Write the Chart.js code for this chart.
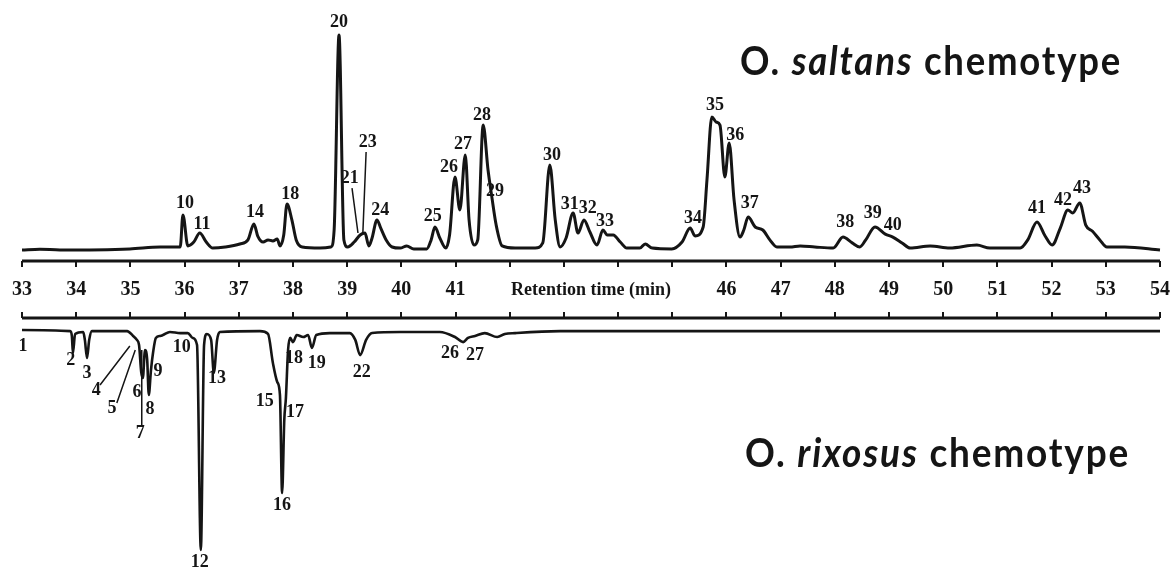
<!DOCTYPE html>
<html>
<head>
<meta charset="utf-8">
<script src="https://cdn.jsdelivr.net/npm/chart.js@4.4.1/dist/chart.umd.min.js"></script>
<style>
  html, body { margin: 0; padding: 0; background: #fff; }
  #wrap { width: 1170px; height: 573px; }
</style>
</head>
<body>
<div id="wrap"><canvas id="chromChart" width="1170" height="573"></canvas></div>
<script>
// O. saltans trace: retention time (min) and signal (peak 20 = 100)
const saltansTime = [
    33.00, 33.33, 33.70, 34.99, 35.55, 35.92, 35.97, 36.06, 36.17, 36.28,
    36.40, 36.52, 36.75, 37.02, 37.17, 37.28, 37.35, 37.45, 37.54, 37.63,
    37.71, 37.76, 37.83, 37.89, 37.98, 38.06, 38.17, 38.50, 38.70, 38.76,
    38.85, 38.94, 39.01, 39.13, 39.24, 39.33, 39.40, 39.46, 39.55, 39.62,
    39.72, 39.83, 39.98, 40.10, 40.23, 40.47, 40.55, 40.62, 40.71, 40.82,
    40.89, 40.99, 41.08, 41.18, 41.25, 41.34, 41.41, 41.51, 41.60, 41.67,
    41.75, 41.86, 42.10, 42.47, 42.61, 42.74, 42.84, 42.93, 43.04, 43.17,
    43.26, 43.37, 43.48, 43.61, 43.72, 43.80, 43.91, 44.04, 44.16, 44.40,
    44.50, 44.63, 44.99, 45.18, 45.33, 45.42, 45.57, 45.64, 45.73, 45.81,
    45.88, 45.97, 46.05, 46.14, 46.25, 46.32, 46.40, 46.53, 46.67, 46.80,
    46.93, 47.17, 47.36, 47.63, 47.97, 48.15, 48.32, 48.46, 48.57, 48.74,
    48.93, 49.07, 49.24, 49.39, 49.76, 50.12, 50.62, 50.86, 51.42, 51.56,
    51.73, 51.88, 52.01, 52.16, 52.30, 52.39, 52.52, 52.63, 52.75, 52.89,
    53.02, 53.35, 54.00
];
const saltansSignal = [
    0, 0.4, 0, 0.5, 1.4, 1.4, 16.3, 1.9, 3.7, 7.9,
    3.7, 0.9, 1.4, 2.8, 4.7, 12.1, 6.5, 3.7, 4.7, 4.2,
    5.1, 1.9, 7.0, 21.4, 14.0, 4.7, 1.4, 0.9, 1.4, 9.3,
    100, 4.7, 1.4, 3.7, 7.0, 7.9, 1.9, 5.6, 14.0, 10.2,
    4.7, 1.4, 0.9, 1.9, 0.5, 0.5, 4.7, 10.7, 5.6, 0.9,
    7.0, 34.0, 18.6, 44.2, 14.0, 2.3, 4.7, 58.1, 37.2, 24.7,
    11.6, 1.9, 0.9, 0.9, 3.3, 39.5, 14.0, 1.4, 5.6, 17.2,
    7.9, 14.0, 8.4, 2.3, 9.3, 7.0, 7.0, 3.7, 0.9, 0.9,
    2.8, 0.9, 0.5, 3.7, 10.2, 6.5, 10.7, 32.6, 61.9, 59.5,
    58.1, 34.0, 49.8, 23.3, 6.0, 9.3, 15.3, 10.7, 9.3, 4.7,
    1.4, 1.4, 1.9, 1.4, 0.9, 6.0, 3.3, 1.4, 4.7, 10.7,
    7.4, 6.0, 3.3, 0.9, 1.9, 0.9, 2.3, 0.9, 0.9, 4.7,
    13.0, 6.5, 2.3, 10.2, 18.6, 17.2, 21.9, 11.6, 8.8, 4.7,
    1.4, 1.4, 0
];

// O. rixosus trace, plotted downwards (peak 12 = -100)
const rixosusTime = [
    33.00, 33.89, 33.92, 33.94, 33.98, 34.13, 34.16, 34.20, 34.24, 34.29,
    34.94, 35.05, 35.12, 35.16, 35.20, 35.23, 35.27, 35.31, 35.34, 35.38,
    35.42, 35.47, 35.55, 35.60, 35.73, 35.92, 36.06, 36.15, 36.23, 36.30,
    36.36, 36.41, 36.49, 36.54, 36.60, 36.65, 37.39, 37.54, 37.63, 37.71,
    37.76, 37.80, 37.84, 37.87, 37.91, 37.95, 38.00, 38.07, 38.19, 38.28,
    38.35, 38.43, 38.68, 39.05, 39.15, 39.24, 39.35, 39.46, 39.98, 40.71,
    40.99, 41.14, 41.23, 41.36, 41.54, 41.77, 41.91, 42.10, 42.93, 54.00
];
const rixosusSignal = [
    0, -0.5, -2.7, -10.5, -1.8, -0.9, -4.5, -12.7, -4.5, -0.5,
    -0.5, -2.7, -4.5, -6.8, -19.1, -21.8, -9.1, -13.6, -29.5, -18.2,
    -10.0, -3.6, -2.7, -2.3, -0.9, -1.4, -1.4, -3.6, -6.8, -100,
    -6.8, -1.8, -4.5, -19.5, -4.5, -0.9, -0.5, -1.8, -15.0, -23.6,
    -29.5, -74.1, -40.9, -30.9, -9.1, -3.6, -5.5, -2.3, -3.2, -2.3,
    -8.2, -2.3, -1.4, -1.4, -4.5, -11.4, -4.5, -1.4, -0.9, -0.9,
    -3.2, -5.5, -3.6, -2.7, -1.4, -3.2, -1.8, -1.4, -0.5, -0.5
];

// peak numbers and where each label sits (time, signal)
const saltansPeaks = ['10', '11', '14', '18', '20', '21', '23', '24', '25', '26', '27', '28', '29', '30',
    '31', '32', '33', '34', '35', '36', '37', '38', '39', '40', '41', '42', '43'];
const saltansLabelTime = [36.01, 36.32, 37.30, 37.95, 38.85, 39.05, 39.38, 39.61, 40.58, 40.88, 41.14, 41.49, 41.73, 42.78,
    43.11, 43.44, 43.76, 45.38, 45.79, 46.16, 46.43, 48.19, 48.70, 49.07, 51.73, 52.21, 52.56];
const saltansLabelSignal = [21.9, 12.1, 17.7, 26.0, 106.0, 33.5, 50.2, 18.6, 15.8, 38.6, 49.3, 62.8, 27.4, 44.2,
    21.4, 19.5, 13.5, 14.9, 67.4, 53.5, 21.9, 13.0, 17.2, 11.6, 19.5, 23.3, 28.8];
// leader lines: [time1, signal1, time2, signal2]
const saltansLeaders = [[39.09, 28.8, 39.20, 7.9], [39.35, 45.6, 39.29, 7.9]];

const rixosusPeaks = ['1', '2', '3', '4', '5', '6', '7', '8', '9', '10', '12', '13', '15', '16', '17', '18', '19', '22', '26', '27'];
const rixosusLabelTime = [33.02, 33.90, 34.20, 34.37, 34.66, 35.12, 35.18, 35.36, 35.51, 35.95, 36.28, 36.60, 37.48, 37.80,
    38.04, 38.02, 38.44, 39.27, 40.90, 41.36];
const rixosusLabelSignal = [-7.3, -13.6, -19.5, -27.3, -35.5, -28.2, -46.8, -35.9, -18.6, -7.7, -105.5, -21.8, -32.3, -79.5,
    -37.3, -12.7, -15.0, -19.1, -10.5, -11.4];
const rixosusLeaders = [[34.44, -25.0, 34.99, -7.3], [34.75, -33.2, 35.09, -9.1], [35.21, -44.1, 35.21, -9.1]];

// time axis
const timeTicks = [33, 34, 35, 36, 37, 38, 39, 40, 41, 42, 43, 44, 45, 46, 47, 48, 49, 50, 51, 52, 53, 54];
const tickLabels = ['33', '34', '35', '36', '37', '38', '39', '40', '41', '', '', '', '', '46', '47', '48', '49', '50', '51', '52', '53', '54'];
const axisTitle = 'Retention time (min)';
const axisTitleAt = 43.5;

// ---- layout ----
const H = 573;
const SAL_BASE = 250, SAL_PX = 2.15;   // baseline pixel, pixels per signal unit
const RIX_BASE = 330, RIX_PX = 2.2;
const AXIS_TOP_Y = 261, AXIS_BOTTOM_Y = 318, TICK_LEN = 6, TICK_TEXT_Y = 290;
const ink = '#151515';
const numFont = 'bold 18px "Liberation Serif"';

const frame = {
    id: 'frame',
    afterDatasetsDraw(chart) {
        const { ctx, scales: { x } } = chart;
        const left = x.getPixelForValue(timeTicks[0]);
        const right = x.getPixelForValue(timeTicks[timeTicks.length - 1]);
        ctx.save();
        ctx.strokeStyle = ink;
        ctx.lineWidth = 3;
        ctx.beginPath();
        ctx.moveTo(left, AXIS_TOP_Y);
        ctx.lineTo(right, AXIS_TOP_Y);
        ctx.moveTo(left, AXIS_BOTTOM_Y);
        ctx.lineTo(right, AXIS_BOTTOM_Y);
        ctx.stroke();

        ctx.lineWidth = 2;
        ctx.beginPath();
        timeTicks.forEach(t => {
            const px = Math.round(x.getPixelForValue(t));
            ctx.moveTo(px, AXIS_TOP_Y);
            ctx.lineTo(px, AXIS_TOP_Y + TICK_LEN);
            ctx.moveTo(px, AXIS_BOTTOM_Y);
            ctx.lineTo(px, AXIS_BOTTOM_Y - TICK_LEN);
        });
        ctx.stroke();

        ctx.fillStyle = ink;
        ctx.textAlign = 'center';
        ctx.textBaseline = 'middle';
        ctx.font = 'bold 20px "Liberation Serif"';
        timeTicks.forEach((t, i) => {
            if (tickLabels[i]) ctx.fillText(tickLabels[i], x.getPixelForValue(t), TICK_TEXT_Y);
        });
        ctx.font = 'bold 18px "Liberation Serif"';
        ctx.fillText(axisTitle, x.getPixelForValue(axisTitleAt), TICK_TEXT_Y);
        ctx.restore();
    }
};

function drawPeakLabels(ctx, x, y, names, times, signals, leaders) {
    ctx.font = numFont;
    names.forEach((n, i) => ctx.fillText(n, x.getPixelForValue(times[i]), y.getPixelForValue(signals[i])));
    ctx.lineWidth = 1.5;
    ctx.beginPath();
    leaders.forEach(l => {
        ctx.moveTo(x.getPixelForValue(l[0]), y.getPixelForValue(l[1]));
        ctx.lineTo(x.getPixelForValue(l[2]), y.getPixelForValue(l[3]));
    });
    ctx.stroke();
}

const peakLabels = {
    id: 'peakLabels',
    afterDatasetsDraw(chart) {
        const { ctx, scales } = chart;
        ctx.save();
        ctx.fillStyle = ink;
        ctx.strokeStyle = ink;
        ctx.textAlign = 'center';
        ctx.textBaseline = 'middle';
        drawPeakLabels(ctx, scales.x, scales.ySal, saltansPeaks, saltansLabelTime, saltansLabelSignal, saltansLeaders);
        drawPeakLabels(ctx, scales.x, scales.yRix, rixosusPeaks, rixosusLabelTime, rixosusLabelSignal, rixosusLeaders);
        ctx.restore();
    }
};

// mixed upright / italic title fitted into a given span
function drawTitle(ctx, parts, left, right, baseline) {
    ctx.save();
    ctx.letterSpacing = '2px';
    let total = 0;
    parts.forEach(p => {
        ctx.font = p.font;
        p.w = ctx.measureText(p.text).width;
        total += p.w;
    });
    ctx.translate(left, baseline);
    ctx.scale((right - left) / total, 1);
    ctx.fillStyle = ink;
    ctx.textAlign = 'left';
    ctx.textBaseline = 'alphabetic';
    let cx = 0;
    parts.forEach(p => {
        ctx.font = p.font;
        ctx.fillText(p.text, cx, 0);
        cx += p.w;
    });
    ctx.restore();
}

const upright = 'bold 41px Lato';
const slanted = 'italic bold 41px Lato';

const titles = {
    id: 'titles',
    afterDraw(chart) {
        const ctx = chart.ctx;
        drawTitle(ctx, [
            { text: 'O. ', font: upright },
            { text: 'saltans', font: slanted },
            { text: ' chemotype', font: upright }
        ], 740, 1122, 75);
        drawTitle(ctx, [
            { text: 'O. ', font: upright },
            { text: 'rixosus', font: slanted },
            { text: ' chemotype', font: upright }
        ], 745, 1130, 467);
    }
};

const ctx = document.getElementById('chromChart');

new Chart(ctx, {
    type: 'line',
    data: {
        datasets: [{
            label: 'O. saltans',
            data: saltansTime.map((t, i) => ({ x: t, y: saltansSignal[i] })),
            yAxisID: 'ySal',
            borderColor: ink,
            borderWidth: 3,
            pointRadius: 0,
            fill: false,
            cubicInterpolationMode: 'monotone',
            clip: 6
        }, {
            label: 'O. rixosus',
            data: rixosusTime.map((t, i) => ({ x: t, y: rixosusSignal[i] })),
            yAxisID: 'yRix',
            borderColor: ink,
            borderWidth: 2.6,
            pointRadius: 0,
            fill: false,
            cubicInterpolationMode: 'monotone',
            clip: 6
        }]
    },
    options: {
        responsive: false,
        animation: false,
        layout: { padding: { left: 22, right: 10, top: 0, bottom: 0 } },
        plugins: {
            legend: { display: false },
            tooltip: { enabled: false }
        },
        scales: {
            x: { type: 'linear', min: 33, max: 54, display: false },
            ySal: { type: 'linear', display: false, min: -(H - SAL_BASE) / SAL_PX, max: SAL_BASE / SAL_PX },
            yRix: { type: 'linear', display: false, min: -(H - RIX_BASE) / RIX_PX, max: RIX_BASE / RIX_PX }
        }
    },
    plugins: [frame, peakLabels, titles]
});
</script>
</body>
</html>
